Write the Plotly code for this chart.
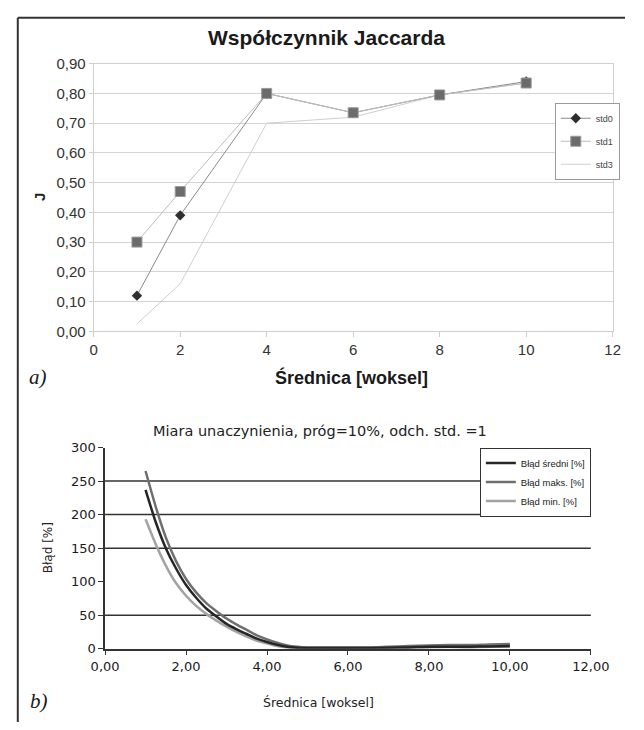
import plotly.graph_objects as go

# ---------------- panel a data ----------------
DIAM = [1, 2, 4, 6, 8, 10]
STD0 = [0.12, 0.39, 0.80, 0.735, 0.795, 0.84]
STD1 = [0.30, 0.47, 0.80, 0.735, 0.795, 0.835]
STD3 = [0.025, 0.16, 0.70, 0.72, 0.795, 0.835]
NAMES_A = ["std0", "std1", "std3"]

# ---------------- panel b data ----------------
X_B = [1.0, 1.25, 1.5, 1.75, 2.0, 2.25, 2.5, 2.75, 3.0, 3.25, 3.5, 3.75, 4.0,
       4.25, 4.5, 4.75, 5.0, 5.5, 6.0, 6.5, 7.0, 7.5, 8.0, 8.5, 9.0, 9.5, 10.0]
B_MEAN = [237, 189, 150, 120, 95, 76, 60, 48, 37, 29, 22, 15, 10,
          6, 3, 1.5, 1, 1, 1, 1, 1.5, 2, 3, 3, 3, 3.5, 4]
B_MAX = [265, 212, 166, 131, 104, 84, 68, 56, 45, 36, 28, 20, 14,
         9, 5, 3, 2, 2, 2, 2, 3, 4, 5, 5.5, 5.5, 6.5, 7]
B_MIN = [193, 156, 124, 98, 79, 64, 52, 42, 33, 25, 18, 12, 8,
         4, 2, 1.2, 1, 1, 1, 1, 1, 1.5, 2, 2.5, 2, 3, 3]
NAMES_B = ["Błąd średni [%]", "Błąd maks. [%]", "Błąd min. [%]"]
GRID_B = [50, 150, 200, 250]

W, H = 644, 730


def px(x):
    return x / W


def py(y):
    return (H - y) / H


fig = go.Figure()

# panel a traces
fig.add_trace(go.Scatter(x=DIAM, y=STD3, name=NAMES_A[2], mode="lines",
                         line=dict(color="#cfcfcf", width=1), legendrank=3,
                         legendgroup="c", xaxis="x", yaxis="y"))
fig.add_trace(go.Scatter(x=DIAM, y=STD0, name=NAMES_A[0], mode="lines+markers",
                         line=dict(color="#8a8a8a", width=1),
                         marker=dict(symbol="diamond", size=8, color="#2e2e2e"),
                         legendrank=1, legendgroup="a", xaxis="x", yaxis="y"))
fig.add_trace(go.Scatter(x=DIAM, y=STD1, name=NAMES_A[1], mode="lines+markers",
                         line=dict(color="#bdbdbd", width=1),
                         marker=dict(symbol="square", size=10, color="#6b6b6b",
                                     line=dict(color="#9a9a9a", width=1)),
                         legendrank=2, legendgroup="b", xaxis="x", yaxis="y"))

# panel b traces
RANK_B = {NAMES_B[0]: 1, NAMES_B[1]: 2, NAMES_B[2]: 3}
for ys, nm, col in [(B_MIN, NAMES_B[2], "#a3a3a3"), (B_MAX, NAMES_B[1], "#6f6f6f"),
                    (B_MEAN, NAMES_B[0], "#262626")]:
    fig.add_trace(go.Scatter(x=X_B, y=ys, name=nm, mode="lines",
                             line=dict(color=col, width=2.5, shape="spline", smoothing=0.6),
                             legend="legend2", legendrank=RANK_B[nm],
                             xaxis="x2", yaxis="y2"))

font_a = "Liberation Sans, Arial, sans-serif"
font_b = "DejaVu Sans, sans-serif"

fig.update_layout(
    width=W, height=H,
    margin=dict(l=0, r=0, t=0, b=0),
    paper_bgcolor="white", plot_bgcolor="white",
    separators=", ",
    showlegend=True,
    xaxis=dict(domain=[px(84), px(631)], range=[0, 12], dtick=2, tick0=0,
               showgrid=False, zeroline=False, showline=True, linecolor="#cfcfcf",
               linewidth=1, mirror=True, ticks="outside", ticklen=5, tickcolor="#cfcfcf",
               tickfont=dict(family=font_a, size=15, color="#333333"), anchor="y"),
    yaxis=dict(domain=[py(330), py(56)], range=[0, 0.9], dtick=0.1, tick0=0,
               tickformat=".2f", showgrid=True, gridcolor="#d4d4d4", gridwidth=1,
               zeroline=False, showline=True, linecolor="#cfcfcf", linewidth=1, mirror=True,
               ticks="outside", ticklen=4, tickcolor="#cfcfcf",
               tickfont=dict(family=font_a, size=15, color="#333333"), anchor="x"),
    xaxis2=dict(domain=[px(96), px(608)], range=[0, 12], dtick=2, tick0=0,
                tickformat=".2f", showgrid=False, zeroline=False, showline=True,
                linecolor="#333333", linewidth=1.5, ticks="outside", ticklen=5,
                tickcolor="#333333",
                tickfont=dict(family=font_b, size=13, color="#1a1a1a"), anchor="y2"),
    yaxis2=dict(domain=[py(655), py(449)], range=[0, 300], dtick=50, tick0=0,
                showgrid=False, zeroline=False, showline=True, linecolor="#333333",
                linewidth=1.5, ticks="outside", ticklen=5, tickcolor="#333333",
                tickfont=dict(family=font_b, size=13, color="#1a1a1a"), anchor="x2"),
    legend=dict(x=px(570), y=py(96), xanchor="left", yanchor="top",
                bgcolor="white", bordercolor="#9a9a9a", borderwidth=1,
                font=dict(family=font_a, size=9, color="#444444"),
                tracegroupgap=4, itemwidth=30),
    legend2=dict(x=px(608), y=py(449), xanchor="right", yanchor="top",
                 bgcolor="white", bordercolor="#333333", borderwidth=1,
                 font=dict(family="Liberation Sans Narrow, Liberation Sans, sans-serif",
                           size=9.5, color="#222222"),
                 itemwidth=30, tracegroupgap=0),
)

shapes = []
for g in GRID_B:
    shapes.append(dict(type="line", xref="x2 domain", yref="y2", x0=0, x1=1, y0=g, y1=g,
                       line=dict(color="#333333", width=1.5), layer="below"))
# outer frame
shapes.append(dict(type="line", xref="paper", yref="paper", x0=px(4), x1=px(4),
                   y0=0, y1=py(9), line=dict(color="#333333", width=2)))
shapes.append(dict(type="line", xref="paper", yref="paper", x0=px(4), x1=1,
                   y0=py(9), y1=py(9), line=dict(color="#333333", width=2)))
fig.update_layout(shapes=shapes)

ann = [
    dict(text="<b>Współczynnik Jaccarda</b>", x=px(329), y=py(29),
         font=dict(family=font_a, size=21, color="#1a1a1a")),
    dict(text="<b>J</b>", x=px(27), y=py(193), textangle=-90,
         font=dict(family=font_a, size=15, color="#222222")),
    dict(text="<b>Średnica [woksel]</b>", x=px(356), y=py(377),
         font=dict(family=font_a, size=18, color="#1a1a1a")),
    dict(text="<i>a)</i>", x=px(25), y=py(377),
         font=dict(family="Liberation Serif, Times New Roman, serif", size=21, color="#1a1a1a")),
    dict(text="Miara unaczynienia, próg=10%, odch. std. =1", x=px(323), y=py(432),
         font=dict(family=font_b, size=14.5, color="#222222")),
    dict(text="Błąd [%]", x=px(36), y=py(552), textangle=-90,
         font=dict(family=font_b, size=12, color="#222222")),
    dict(text="Średnica [woksel]", x=px(321), y=py(710),
         font=dict(family=font_b, size=12.5, color="#222222")),
    dict(text="<i>b)</i>", x=px(26), y=py(708),
         font=dict(family="Liberation Serif, Times New Roman, serif", size=21, color="#1a1a1a")),
]
for a in ann:
    a.update(xref="paper", yref="paper", showarrow=False, xanchor="center", yanchor="middle")
fig.update_layout(annotations=ann)

fig.write_html("out.html", config={"displayModeBar": False},
               post_script="document.body.style.margin='0';document.body.style.padding='0';")
